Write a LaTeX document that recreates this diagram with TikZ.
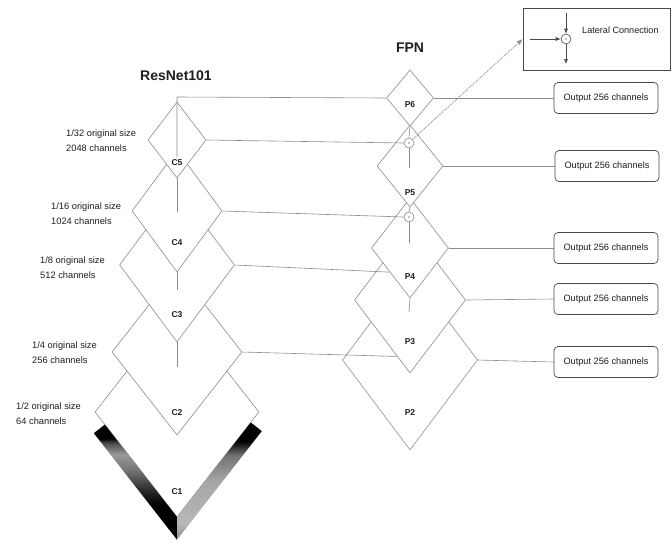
\documentclass[tikz,border=0pt]{standalone}
\usepackage{fontspec}
\setmainfont{Liberation Sans}
\usetikzlibrary{shapes.geometric,arrows.meta,calc}
\definecolor{lg}{HTML}{8C8C8C}
\definecolor{bx}{HTML}{4A4A4A}
\definecolor{tx}{HTML}{1E1E1E}
\pgfdeclareverticalshading{bandL}{100bp}{color(0bp)=(black); color(25bp)=(black); color(40bp)=(black); color(46bp)=(black!85); color(55bp)=(black!55); color(62bp)=(black!40); color(67bp)=(black!70); color(69bp)=(black); color(75bp)=(black); color(100bp)=(black)}
\pgfdeclareverticalshading{bandR}{100bp}{color(0bp)=(black!45); color(25bp)=(black!45); color(32bp)=(black!28); color(50bp)=(black!35); color(61bp)=(black!55); color(65bp)=(black!85); color(67bp)=(black); color(75bp)=(black); color(100bp)=(black)}
\begin{document}
\begin{tikzpicture}[x=1pt,y=-1pt,
  dia/.style={shape=diamond, draw=lg, fill=white, inner sep=0pt, line width=0.6pt},
  conn/.style={draw=lg, line width=0.6pt},
  lbl/.style={text=tx, font=\bfseries\fontsize{8.5}{10}\selectfont, inner sep=0pt},
  side/.style={text=tx, anchor=west, align=left, inner sep=0pt, font=\fontsize{9.3}{15}\selectfont},
  title/.style={text=tx, font=\bfseries\fontsize{14}{16}\selectfont, inner sep=0pt},
  outbox/.style={draw=bx, line width=0.7pt, rounded corners=4pt, minimum width=104pt, minimum height=31pt, fill=white, inner sep=0pt, text=tx, font=\fontsize{9.2}{10}\selectfont},
  sumc/.style={circle, draw=lg, fill=white, line width=0.6pt, minimum size=10pt, inner sep=0pt, path picture={\fill[lg] (path picture bounding box.center) circle (0.8pt);}},
  latarrow/.style={draw=bx, line width=0.6pt, -{Latex[length=5pt,width=4pt]}}
]
\useasboundingbox (0,0) rectangle (672,542);

% ResNet diamonds (bottom to top)
\node[dia, minimum width=164pt, minimum height=210pt] (C1) at (177,412) {};
\shade[shading=bandL] (104.8,424.6) -- (177,517) -- (177,539.7) -- (93.8,433.2) -- cycle;
\shade[shading=bandR] (250.8,422.5) -- (177,517) -- (177,539.7) -- (261.8,431.1) -- cycle;
\node[dia, minimum width=130pt, minimum height=166pt] (C2) at (177,352) {};
\node[dia, minimum width=115pt, minimum height=154pt] (C3) at (177,265) {};
\node[dia, minimum width=90pt, minimum height=122pt] (C4) at (177,211) {};
\node[dia, minimum width=58pt, minimum height=76pt] (C5) at (177,140) {};

% FPN diamonds (bottom to top)
\node[dia, minimum width=135pt, minimum height=180pt] (P2) at (410,360) {};
\node[dia, minimum width=111pt, minimum height=146pt] (P3) at (410,300) {};
\node[dia, minimum width=77pt, minimum height=100pt] (P4) at (410,248) {};
\node[dia, minimum width=66pt, minimum height=82pt] (P5) at (410,166) {};
\node[dia, minimum width=47pt, minimum height=56pt] (P6) at (410,98) {};

% sum circles
\node[sumc] (s5) at (409,143) {};
\node[sumc] (s4) at (409,217) {};

% output boxes
\node[outbox] (O6) at (606,98) {Output 256 channels};
\node[outbox] (O5) at (607,166) {Output 256 channels};
\node[outbox] (O4) at (606,248) {Output 256 channels};
\node[outbox] (O3) at (606,299) {Output 256 channels};
\node[outbox] (O2) at (606,362) {Output 256 channels};

% lateral connection legend
\node[draw=bx, line width=0.7pt, minimum width=147pt, minimum height=62pt, inner sep=0pt] (lat) at (596.5,39) {};
\node[sumc, draw=bx] (lc) at (566,39) {};
\coordinate (la) at (530,39);
\coordinate (lb) at (566,13);
\coordinate (ld) at (566,64);
\draw[latarrow] (la) -- (lc.west);
\draw[latarrow] (lb) -- (lc.north);
\draw[latarrow] (lc.south) -- (ld);
\node[text=tx, anchor=west, inner sep=0pt, font=\fontsize{9.1}{10}\selectfont] (lt) at (582,30) {Lateral Connection};

% connectors
\coordinate (t5) at (177,97);
\coordinate (v5) at (177,157);
\coordinate (v4) at (177,212);
\coordinate (v3) at (177,290);
\coordinate (v2) at (177,367);
\draw[conn] (P6.west) -- (t5) -- (v5);
\draw[conn] (C5.east) -- (s5.west);
\draw[conn] (C4.east) -- (s4.west);
\draw[conn] (C3.east) -- ($(P4.west)!0.48!(P4.south)$);
\draw[conn] (C2.east) -- ($(P3.west)!0.77!(P3.south)$);
\draw[conn] (C5.south) -- (v4);
\draw[conn] (C4.south) -- (v3);
\draw[conn] (C3.south) -- (v2);

\coordinate (w5) at (409,168);
\coordinate (w4) at (409,243);
\coordinate (w3) at (409,312);
\draw[conn] (P6.south) -- (s5.north);
\draw[conn] (s5.south) -- (w5);
\draw[conn] (P5.south) -- (s4.north);
\draw[conn] (s4.south) -- (w4);
\draw[conn] (P4.south) -- (w3);

\draw[conn] (P6.east) -- (O6.west);
\draw[conn] (P5.east) -- (O5.west);
\draw[conn] (P4.east) -- (O4.west);
\draw[conn] (P3.east) -- (O3.west);
\draw[conn] (P2.east) -- (O2.west);

\draw[densely dotted, draw=lg, line width=0.9pt, -{Latex[length=6pt,width=5pt]}] (s5.north east) -- (lat.west);

% labels
\node[lbl] (lC5) at (177,163) {C5};
\node[lbl] (lC4) at (177,243) {C4};
\node[lbl] (lC3) at (177,315) {C3};
\node[lbl] (lC2) at (177,413) {C2};
\node[lbl] (lC1) at (177,492) {C1};
\node[lbl] (lP6) at (410,105) {P6};
\node[lbl] (lP5) at (410,193) {P5};
\node[lbl] (lP4) at (410,277) {P4};
\node[lbl] (lP3) at (410,342) {P3};
\node[lbl] (lP2) at (410,413) {P2};

\node[title] (tR) at (176,76) {ResNet101};
\node[title] (tF) at (410,48) {FPN};

\node[side] (sd5) at (66,140.5) {1/32 original size\\2048 channels};
\node[side] (sd4) at (51,213.5) {1/16 original size\\1024 channels};
\node[side] (sd3) at (40,267.5) {1/8 original size\\512 channels};
\node[side] (sd2) at (32,353) {1/4 original size\\256 channels};
\node[side] (sd1) at (16,414) {1/2 original size\\64 channels};
\end{tikzpicture}
\end{document}
